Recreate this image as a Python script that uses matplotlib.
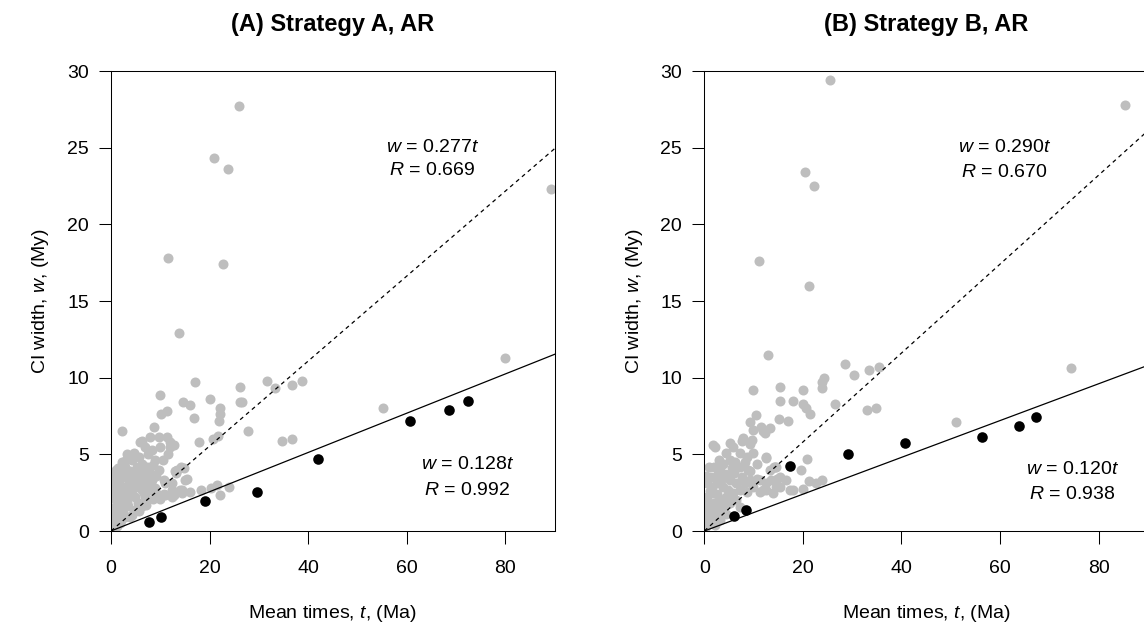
import matplotlib
matplotlib.use("Agg")
import matplotlib.pyplot as plt
import numpy as np

plt.rcParams['font.family'] = ['Liberation Sans', 'DejaVu Sans']
plt.rcParams['mathtext.fontset'] = 'custom'
plt.rcParams['mathtext.rm'] = 'Liberation Sans'
plt.rcParams['mathtext.it'] = 'Liberation Sans:italic'

# ---- panel A data ----
a_grey = [
    (25.9, 27.7), (20.9, 24.3), (23.7, 23.6), (11.6, 17.8), (22.8, 17.4), (89.2, 22.3),
    (13.7, 12.9), (79.9, 11.3), (17.1, 9.7), (9.9, 8.9), (26.1, 9.4), (31.6, 9.8),
    (33.3, 9.3), (36.7, 9.5), (38.8, 9.8), (55.2, 8.0), (20.0, 8.6), (14.6, 8.4),
    (16.0, 8.2), (26.2, 8.4), (26.6, 8.4), (22.1, 8.0), (22.1, 7.6), (22.0, 7.2),
    (11.4, 7.8), (10.2, 7.6), (16.9, 7.4), (8.8, 6.8), (2.2, 6.5), (27.9, 6.5),
    (34.8, 5.9), (36.7, 6.0), (17.8, 5.8), (20.6, 6.0), (21.7, 6.2), (12.0, 5.5), (12.8, 5.6),
    (8.0, 6.15), (9.7, 6.15), (11.4, 6.1), (12.0, 5.8), (6.3, 5.9), (5.9, 5.8), (6.9, 5.5),
    (4.6, 5.1), (3.2, 5.0), (2.2, 4.5), (1.5, 4.1), (5.6, 4.85), (6.3, 4.4), (7.3, 4.2),
    (8.3, 5.3), (9.0, 4.6), (9.65, 4.0), (4.2, 4.6), (5.2, 4.2), (2.9, 4.2), (3.9, 3.9),
    (0.8, 3.5), (0.5, 2.9), (0.8, 2.2), (1.2, 1.6), (0.8, 0.9), (0.4, 0.4), (0.3, 1.5),
    (0.5, 3.8), (1.0, 4.0), (0.3, 2.5),
    (2.9, 3.5), (4.2, 3.1), (5.6, 3.5), (6.9, 3.3), (2.9, 2.5), (4.9, 2.2), (6.3, 2.7),
    (7.6, 2.9), (8.3, 3.3), (1.8, 3.0), (3.5, 3.0), (1.9, 2.3), (2.2, 2.0), (3.5, 1.6),
    (4.9, 1.37), (6.3, 1.6), (1.5, 1.37), (2.9, 0.93), (4.2, 1.04), (1.8, 0.5), (2.5, 1.2),
    (3.2, 1.9), (1.0, 1.0), (0.7, 0.6), (1.3, 0.3), (2.0, 0.7), (5.5, 1.8), (7.0, 2.2),
    (4.0, 3.8), (3.0, 4.6), (2.0, 3.8), (1.4, 2.6), (2.6, 2.8),
    (0.2, 0.2), (0.6, 1.2), (1.5, 0.9), (1.1, 2.0), (2.4, 1.6), (1.6, 3.4), (3.6, 2.4),
    (4.6, 2.8), (5.1, 3.9), (6.0, 3.0), (3.8, 0.9), (5.6, 1.3), (7.2, 1.7), (8.6, 2.1),
    (9.4, 2.4), (7.9, 3.8), (6.8, 3.9), (4.7, 3.4), (1.2, 3.0), (0.4, 3.3),
    (9.0, 2.8), (11.0, 3.1), (12.4, 2.7), (14.4, 2.7), (13.1, 3.8), (14.8, 4.1), (11.0, 2.35),
    (12.4, 2.2), (13.4, 4.0), (15.1, 3.3), (10.7, 3.3), (12.4, 3.1), (14.1, 2.67), (12.7, 2.35),
    (14.4, 2.46), (16.1, 2.56), (18.2, 2.67), (20.2, 2.8), (21.6, 3.0), (23.9, 2.9), (22.2, 2.35),
    (8.0, 2.67), (6.6, 2.46), (13.0, 3.9), (14.3, 4.2), (10.7, 2.4), (15.4, 3.4), (12.4, 2.5),
    (14.2, 2.6), (10.0, 2.1), (9.2, 3.6), (8.5, 4.3), (10.5, 4.6), (11.5, 5.0), (7.5, 5.0), (10.0, 5.5),
]
a_black_t = [7.8, 10.2, 19.0, 29.6, 42.0, 60.7, 68.5, 72.4]
a_black_w = [0.6, 0.9, 1.96, 2.54, 4.68, 7.18, 7.87, 8.46]
a_slope_all, a_r_all = 0.277, 0.669
a_slope_blk, a_r_blk = 0.128, 0.992

# ---- panel B data ----
b_grey = [
    (25.5, 29.4), (85.3, 27.8), (20.5, 23.4), (22.2, 22.5), (11.1, 17.6), (21.3, 16.0),
    (74.4, 10.6), (12.9, 11.5), (28.6, 10.9), (30.3, 10.2), (33.5, 10.5), (35.5, 10.7),
    (24.2, 10.0), (23.9, 9.75), (23.8, 9.3), (9.9, 9.2), (15.4, 9.4), (20.1, 9.2),
    (15.4, 8.5), (18.0, 8.5), (20.1, 8.3), (20.6, 8.0), (21.4, 7.6), (26.5, 8.3),
    (33.0, 7.9), (34.9, 8.0), (51.1, 7.1), (10.5, 7.57), (9.3, 7.1), (15.1, 7.3),
    (17.0, 7.2), (13.3, 6.7), (12.3, 6.4), (2.2, 5.5), (12.5, 4.8), (20.9, 4.7),
    (14.1, 4.2), (19.7, 4.0), (14.7, 3.4),
    (18.0, 2.7), (20.0, 2.75), (21.3, 3.25), (22.7, 3.1), (23.8, 3.3), (11.9, 2.7),
    (13.9, 2.5), (10.6, 3.4), (15.3, 2.9), (16.6, 3.3), (11.3, 3.3), (12.6, 3.1),
    (1.8, 5.6), (9.9, 6.6), (11.6, 6.8), (11.9, 6.5), (7.6, 5.9), (9.2, 5.7), (5.9, 5.5),
    (4.5, 5.07), (3.8, 4.4), (3.2, 3.9), (7.2, 5.07), (8.2, 4.5), (8.9, 4.0), (9.2, 3.3),
    (9.9, 5.07), (10.6, 4.4), (12.6, 4.74), (14.3, 4.2), (15.3, 3.54), (17.3, 2.67),
    (13.6, 3.33), (12.6, 2.67), (14.6, 2.9),
    (0.5, 3.1), (0.5, 2.24), (0.8, 1.37), (0.5, 0.72), (0.3, 1.8), (0.4, 3.6), (1.0, 4.2), (0.3, 0.3),
    (2.5, 3.1), (3.8, 2.9), (5.2, 3.33), (6.5, 3.1), (1.8, 2.46), (3.2, 2.0), (4.5, 2.24),
    (5.9, 2.46), (7.2, 2.67), (8.6, 2.56), (9.9, 2.9), (11.3, 2.56), (2.5, 1.59), (3.8, 1.37),
    (5.2, 1.8), (1.8, 0.93), (3.2, 0.72), (6.5, 2.0), (7.2, 1.59), (13.3, 4.0), (14.6, 4.2),
    (5.2, 4.63), (7.2, 4.2), (8.6, 4.85), (7.9, 6.05), (9.6, 5.94), (5.2, 5.72), (1.2, 1.2),
    (2.0, 1.8), (1.5, 2.9), (2.7, 3.7), (4.2, 3.7), (6.0, 3.8), (7.6, 3.5), (1.0, 0.6),
    (2.2, 0.4), (4.4, 1.1), (3.0, 4.6), (2.0, 4.2), (6.3, 4.5),
    (0.2, 0.2), (0.7, 1.0), (1.3, 1.6), (2.6, 2.4), (1.1, 2.6), (3.4, 3.3), (4.8, 2.7),
    (6.0, 2.1), (2.8, 1.3), (4.0, 1.7), (1.4, 3.5), (5.6, 4.1), (8.2, 3.1), (9.2, 3.9),
]
b_black_t = [6.0, 8.4, 17.3, 29.2, 40.7, 56.4, 63.8, 67.3]
b_black_w = [0.98, 1.37, 4.26, 5.04, 5.76, 6.15, 6.87, 7.46]
b_slope_all, b_r_all = 0.290, 0.670
b_slope_blk, b_r_blk = 0.120, 0.938

W, H = 1144, 629
fig = plt.figure(figsize=(W / 100, H / 100), dpi=100)

panels = [
    dict(left=111, title='(A) Strategy A, AR', grey=a_grey, bt=a_black_t, bw=a_black_w,
         s1=a_slope_all, r1=a_r_all, s2=a_slope_blk, r2=a_r_blk,
         txt1=(65.2, 25.0, 23.5), txt2=(72.3, 4.35, 2.65)),
    dict(left=704.3, title='(B) Strategy B, AR', grey=b_grey, bt=b_black_t, bw=b_black_w,
         s1=b_slope_all, r1=b_r_all, s2=b_slope_blk, r2=b_r_blk,
         txt1=(60.9, 25.0, 23.4), txt2=(74.7, 4.0, 2.35)),
]

for p in panels:
    ax = fig.add_axes([p['left'] / W, 98 / H, 443.5 / W, 460 / H])
    g = np.array(p['grey'])
    ax.scatter(g[:, 0], g[:, 1], s=52, color='#bebebe', linewidths=0, zorder=2)
    ax.scatter(p['bt'], p['bw'], s=58, color='black', linewidths=0, zorder=3)
    tt = np.array([0, 100])
    ax.plot(tt, p['s1'] * tt, color='black', lw=0.9, dashes=(3.2, 3.0), zorder=4)
    ax.plot(tt, p['s2'] * tt, color='black', lw=0.9, zorder=4)

    x1, y1a, y1b = p['txt1']
    ax.text(x1, y1a, '$w$ = %.3f$t$' % p['s1'], ha='center', va='center', fontsize=14)
    ax.text(x1, y1b, '$R$ = %.3f' % p['r1'], ha='center', va='center', fontsize=14)
    x2, y2a, y2b = p['txt2']
    ax.text(x2, y2a, '$w$ = %.3f$t$' % p['s2'], ha='center', va='center', fontsize=14)
    ax.text(x2, y2b, '$R$ = %.3f' % p['r2'], ha='center', va='center', fontsize=14)

    ax.set_xlim(0, 90)
    ax.set_ylim(0, 30)
    ax.set_xticks([0, 20, 40, 60, 80])
    ax.set_yticks([0, 5, 10, 15, 20, 25, 30])
    ax.tick_params(direction='out', length=9, width=0.75, labelsize=14)
    ax.tick_params(axis='x', pad=12)
    ax.tick_params(axis='y', pad=7)
    for sp in ax.spines.values():
        sp.set_linewidth(0.75)
    ax.set_title(p['title'], fontsize=17, fontweight='bold', pad=29)

    cx = (p['left'] + 443.5 / 2) / W
    fig.text(cx, 1 - 613 / H, 'Mean times, $t$, (Ma)', ha='center', va='center', fontsize=14)
    fig.text((p['left'] - 70) / W, 1 - 301 / H, 'CI width, $w$, (My)', rotation=90,
             ha='center', va='center', fontsize=14)

fig.savefig('out.png', dpi=100)
